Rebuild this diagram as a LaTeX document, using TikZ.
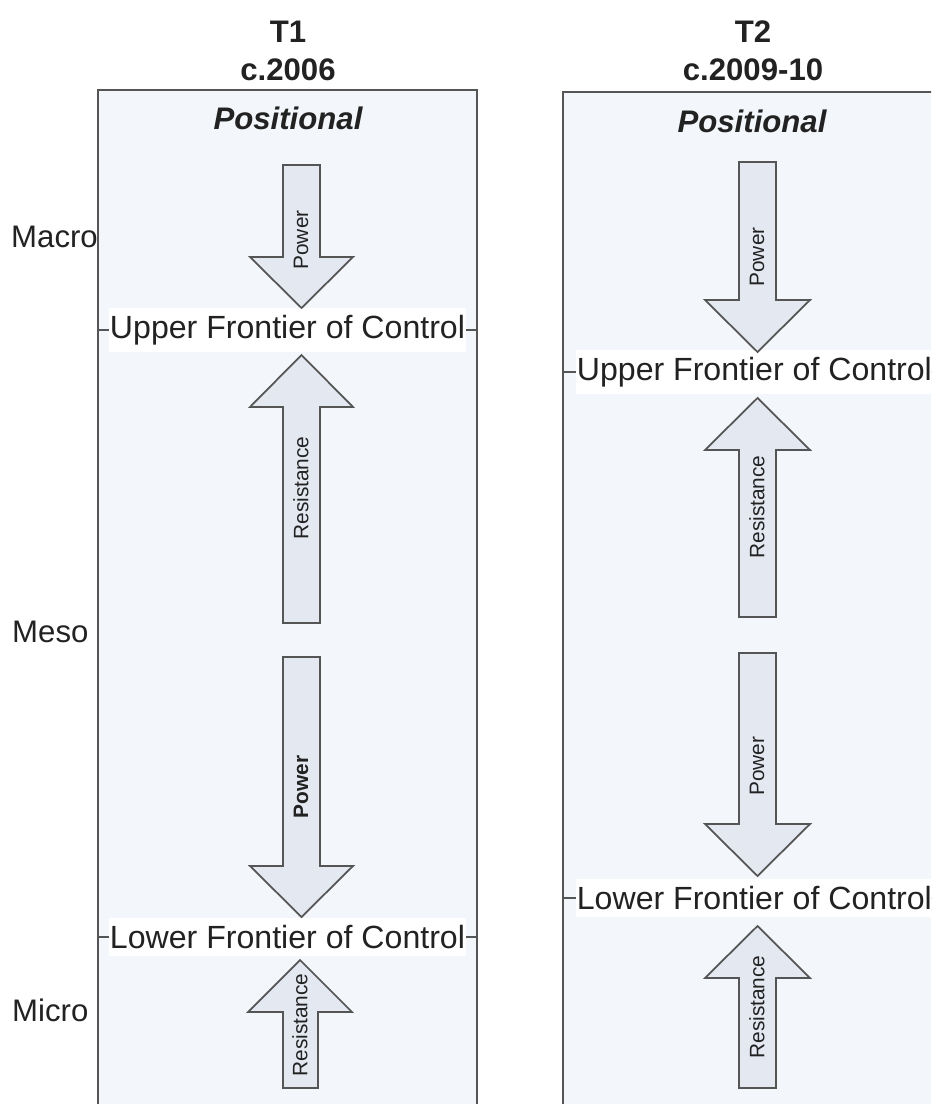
\documentclass[tikz,border=0pt]{standalone}
\usepackage{fontspec}
\setmainfont{Liberation Sans}

\definecolor{panelfill}{HTML}{F3F6FA}
\definecolor{arrowfill}{HTML}{E3E8F1}
\definecolor{linegray}{HTML}{555555}
\definecolor{textgray}{HTML}{222222}

\tikzset{
  panel/.style={draw=linegray, line width=2pt, fill=panelfill},
  blockarrow/.style={draw=linegray, line width=1.5pt, fill=arrowfill, line join=miter},
  heading/.style={font=\fontsize{26.6}{30}\selectfont\bfseries, text=textgray, inner sep=0pt},
  levellabel/.style={font=\fontsize{26.6}{30}\selectfont, text=textgray, inner sep=0pt, anchor=west},
  frontier/.style={draw=linegray, line width=1.2pt},
  frontierlabel/.style={fill=white, inner xsep=1pt, inner ysep=6pt, font=\fontsize{27.4}{30}\selectfont, text=textgray},
  arrowlabel/.style={rotate=90, inner sep=0pt, font=\fontsize{17.8}{20}\selectfont, text=textgray},
}

\begin{document}
\begin{tikzpicture}[x=0.03cm, y=-0.03cm]
      \clip (0,0) rectangle (931,1104);

      % panels
      \draw[panel] (98,90) rectangle (477,1130);%
      \draw[panel] (563,92) rectangle (942,1130);%

      % headings
      \node[heading] (T1) at (288,32) {T1};%
      \node[heading] (D1) at (288,70) {c.2006};%
      \node[heading] (T2) at (753,32) {T2};%
      \node[heading] (D2) at (753,70) {c.2009-10};%
      \node[heading,font=\fontsize{26.6}{30}\selectfont\bfseries\itshape] (P1) at (288,118) {Positional};%
      \node[heading,font=\fontsize{26.6}{30}\selectfont\bfseries\itshape] (P2) at (752,121) {Positional};%

      % levels
      \node[levellabel] (MA) at (11,237) {Macro};%
      \node[levellabel] (ME) at (12,632) {Meso};%
      \node[levellabel] (MI) at (12,1010) {Micro};%

      % frontiers
      \coordinate (UF1w) at (98,330);%
      \coordinate (UF1e) at (477,330);%
      \coordinate (LF1w) at (98,937);%
      \coordinate (LF1e) at (477,937);%
      \coordinate (UF2w) at (563,372);%
      \coordinate (UF2e) at (942,372);%
      \coordinate (LF2w) at (563,898);%
      \coordinate (LF2e) at (942,898);%

      \draw[frontier] (UF1w) -- (UF1e) node[midway,frontierlabel] (UF1) {Upper Frontier of Control};%
      \draw[frontier] (LF1w) -- (LF1e) node[midway,frontierlabel] (LF1) {Lower Frontier of Control};%
      \draw[frontier] (UF2w) -- (UF2e) node[pos=0.505,frontierlabel] (UF2) {Upper Frontier of Control};%
      \draw[frontier] (LF2w) -- (LF2e) node[pos=0.505,frontierlabel] (LF2) {Lower Frontier of Control};%

      % arrows, T1
      \draw[blockarrow] (283,165) -- (320,165) -- (320,257) -- (353,257) -- (301.5,308) -- (250,257) -- (283,257) -- cycle;%
      \draw[blockarrow] (283,623) -- (320,623) -- (320,407) -- (353,407) -- (301.5,355) -- (250,407) -- (283,407) -- cycle;%
      \draw[blockarrow] (283,657) -- (320,657) -- (320,866) -- (353,866) -- (301.5,917) -- (250,866) -- (283,866) -- cycle;%
      \draw[blockarrow] (283,1088) -- (318,1088) -- (318,1012) -- (352,1012) -- (300,960) -- (248,1012) -- (283,1012) -- cycle;%

      % arrows, T2
      \draw[blockarrow] (739,162) -- (776,162) -- (776,300) -- (810,300) -- (757.5,352) -- (705,300) -- (739,300) -- cycle;%
      \draw[blockarrow] (739,617) -- (776,617) -- (776,450) -- (810,450) -- (757.5,398) -- (705,450) -- (739,450) -- cycle;%
      \draw[blockarrow] (739,653) -- (776,653) -- (776,824) -- (810,824) -- (757.5,876) -- (705,824) -- (739,824) -- cycle;%
      \draw[blockarrow] (739,1088) -- (776,1088) -- (776,978) -- (810,978) -- (757.5,926) -- (705,978) -- (739,978) -- cycle;%

      % arrow labels
      \node[arrowlabel] (PW1) at (301,240) {Power};%
      \node[arrowlabel] (RS1) at (301,488) {Resistance};%
      \node[arrowlabel,font=\fontsize{17.8}{20}\selectfont\bfseries] (PW2) at (301,787) {Power};%
      \node[arrowlabel] (RS2) at (300,1025) {Resistance};%
      \node[arrowlabel] (PW3) at (757,257) {Power};%
      \node[arrowlabel] (RS3) at (757,507) {Resistance};%
      \node[arrowlabel] (PW4) at (757,766) {Power};%
      \node[arrowlabel] (RS4) at (757,1007) {Resistance};%
\end{tikzpicture}
\end{document}
